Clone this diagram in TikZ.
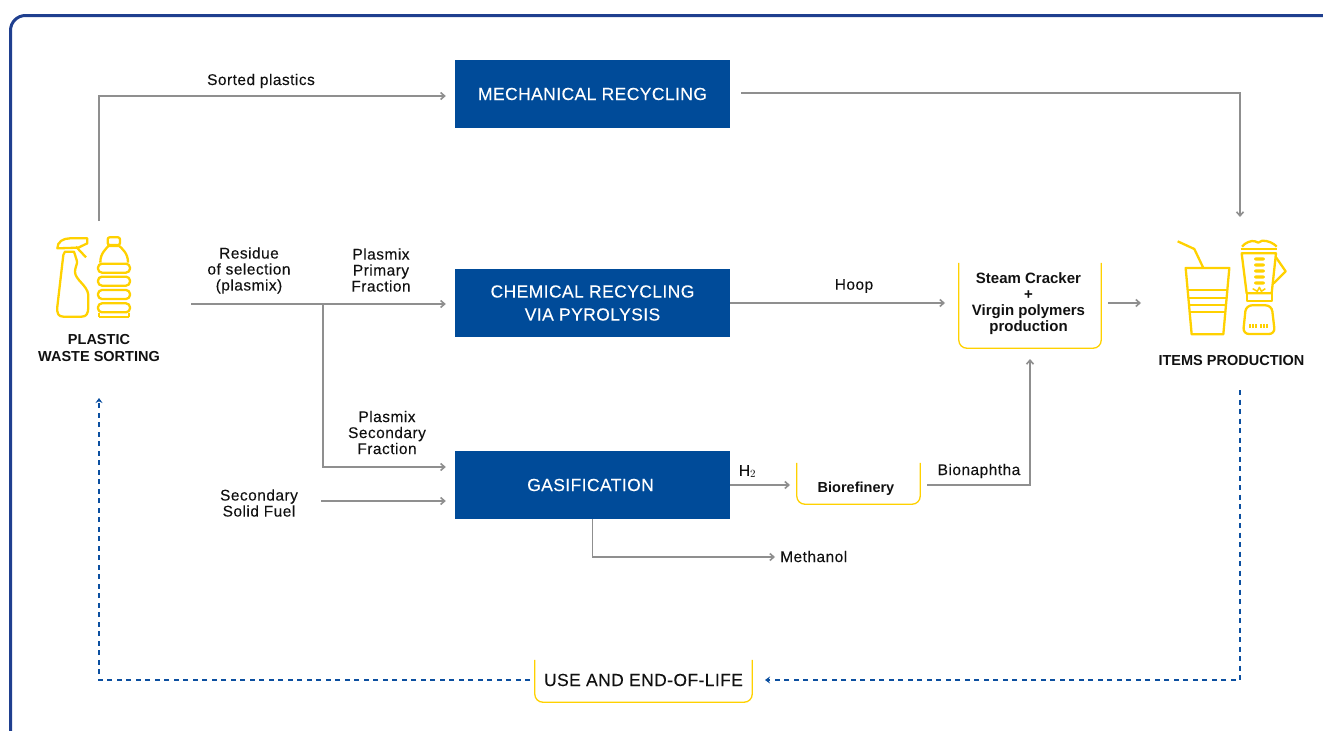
\documentclass[tikz,border=0pt]{standalone}
\usepackage{fontspec}
\setmainfont{Liberation Sans}
\newfontfamily\medfont[FakeBold=0.12,LetterSpace=3]{Liberation Sans}
\newfontfamily\capsfont[FakeBold=0.1,LetterSpace=2.3]{Liberation Sans}
\usetikzlibrary{arrows.meta}
\definecolor{framecol}{HTML}{1F3F8F}
\definecolor{boxcol}{HTML}{004B99}
\definecolor{linecol}{HTML}{8F8F8F}
\definecolor{iconcol}{HTML}{FFD100}
\definecolor{dashcol}{HTML}{0B4FA0}
\definecolor{textcol}{HTML}{111111}
\tikzset{
    procbox/.style={fill=boxcol, text=white, minimum width=275pt, minimum height=68pt, inner sep=0pt, align=center, font=\capsfont\fontsize{17.5}{23}\selectfont},
    openbox/.style={minimum width=#1, inner sep=0pt},
    txt/.style={text=textcol, inner sep=0pt, align=center, font=\medfont\fontsize{15.5}{16}\selectfont},
    boldtxt/.style={text=textcol, inner sep=0pt, align=center, font=\fontsize{15}{16}\selectfont\bfseries},
    flow/.style={draw=linecol, line width=1.6pt, -{Straight Barb[length=4pt,width=7pt]}},
    loopflow/.style={draw=dashcol, line width=1.6pt, dash pattern=on 5pt off 4.5pt, -{Stealth[length=5pt,width=7pt]}},
    icon/.style={draw=iconcol, line width=2.3pt, line join=round},
}
\begin{document}
\begin{tikzpicture}[x=1pt,y=-1pt]
    \useasboundingbox (0,0) rectangle (1323,731);
    \draw[framecol, line width=3pt, rounded corners=15pt] (10.5,740) -- (10.5,15.5) -- (1335,15.5);

    \node[procbox] (mech) at (592.5,94) {MECHANICAL RECYCLING};
    \node[procbox] (chem) at (592.5,303) {CHEMICAL RECYCLING\hspace{2pt}\\VIA PYROLYSIS\hspace{2pt}};
    \node[procbox] (gas) at (592.5,485) {GASIFICATION\hspace{4pt}};

    \node[openbox=142pt, minimum height=85pt] (steam) at (1030,305.5) {};
    \node[openbox=123pt, minimum height=41pt] (bio) at (858.5,483.5) {};
    \node[openbox=217pt, minimum height=42pt] (use) at (643.5,681) {};
    \foreach \b in {steam,bio,use} {
      \draw[iconcol, line width=1.3pt, rounded corners=8pt] (\b.north west) -- (\b.south west) -- (\b.south east) -- (\b.north east);
    }

    \node[boldtxt] (steamtxt) at (1028.5,304) {Steam Cracker\\+\\Virgin polymers\\production};
    \node[boldtxt, font=\fontsize{14.5}{16}\selectfont\bfseries] (biotxt) at (856,489) {Biorefinery};
    \node[txt, font=\capsfont\fontsize{17.5}{20}\selectfont] (usetxt) at (643.5,680) {USE AND END-OF-LIFE};

    \node[boldtxt, font=\fontsize{14.5}{17}\selectfont\bfseries] (sorting) at (99,348) {PLASTIC\\WASTE SORTING};
    \node[boldtxt, font=\fontsize{14.5}{16}\selectfont\bfseries] (items) at (1231.5,361) {ITEMS PRODUCTION};
    \node[txt] (sorted) at (261,81) {Sorted plastics};
    \node[txt] (residue) at (249,270.5) {Residue\\of selection\\(plasmix)};
    \node[txt] (primary) at (381,270) {Plasmix\\Primary\\Fraction};
    \node[txt] (secondary) at (387,432.5) {Plasmix\\Secondary\\Fraction};
    \node[txt] (ssf) at (259,503) {Secondary\\Solid Fuel};
    \node[txt] (hoop) at (854,286) {Hoop};
    \node[txt] (htwo) at (747.5,471.5) {H$_2$};
    \node[txt] (naphtha) at (979,471) {Bionaphtha};
    \node[txt, anchor=west] (methanol) at (780,556.5) {Methanol};

    \coordinate (sortup) at (99,221);
    \coordinate (sortright) at (191,304);
    \coordinate (split) at (323,304);
    \coordinate (ssfend) at (321,501);
    \coordinate (mechout) at (741,93);
    \coordinate (itemstop) at (1240,217);
    \coordinate (itemsin) at (1141,303);
    \coordinate (steamout) at (1108,303);
    \coordinate (steamin) at (945,303);
    \coordinate (biooin) at (790,485);
    \coordinate (bioout) at (927,485);
    \coordinate (steamlow) at (1030,359);
    \coordinate (methin) at (775,557);
    \coordinate (itemslow) at (1240,390);
    \coordinate (sortlow) at (99,398);
    \coordinate (usein) at (765,680);
    \coordinate (useout) at (530,680);

    \draw[flow] (sortup) |- ([xshift=-9pt,yshift=-2pt]mech.west);
    \draw[flow] (mechout) -| (itemstop);
    \draw[flow] (sortright) -- ([xshift=-9pt,yshift=-1pt]chem.west);
    \draw[flow] (split) |- ([xshift=-9pt,yshift=18pt]gas.west);
    \draw[flow] (ssfend) -- ([xshift=-9pt,yshift=-16pt]gas.west);
    \draw[flow] (chem.east) -- (steamin);
    \draw[flow] (steamout) -- (itemsin);
    \draw[flow] (gas.east) -- (biooin);
    \draw[flow] (bioout) -| (steamlow);
    \draw[flow] (gas.south) |- (methin);
    \draw[loopflow] (itemslow) |- (usein);
    \draw[loopflow] (useout) -| (sortlow);

    \begin{scope}[shift={(0,210)}, x=0.3333pt, y=-0.3333pt]
      \draw[icon] (190,135) -- (172,290) .. controls (170,310) and (175,320) .. (190,320) -- (245,320) .. controls (260,320) and (265,310) .. (265,290) -- (265,255) .. controls (262,225) and (225,210) .. (225,185) .. controls (225,170) and (235,160) .. (230,150) -- (222,125) -- (195,125) -- (190,135);
      \draw[icon] (172,115) .. controls (172,95) and (190,85) .. (210,85) -- (262,85) -- (262,100) -- (235,113) -- cycle;
      \draw[icon] (228,110) -- (258,142);
      \draw[icon, rounded corners=2pt] (323,105) -- (323,82) -- (360,82) -- (360,105) -- cycle;
      \draw[icon] (301,158) .. controls (300,130) and (320,115) .. (325,108) -- (358,108) .. controls (365,115) and (385,130) .. (384,158);
      \foreach \y in {161,200,240,280} {
        \draw[icon, rounded corners=4pt] (294,\y) rectangle (390,\y+27);
      }
      \draw[icon] (298,320) -- (386,320);
      \draw[icon] (298,308) -- (298,320);
      \draw[icon] (386,308) -- (386,320);
    \end{scope}

    \begin{scope}[shift={(1130,200)}, x=0.3333pt, y=-0.3333pt]
      \draw[icon] (167,204) -- (298,204) -- (280,403) -- (185,403) -- cycle;
      \foreach \y/\l/\r in {271/174/291,295/176/289,315/178/287,335/180/285} {
        \draw[icon] (\l,\y) -- (\r,\y);
      }
      \draw[icon] (143,124) -- (193,147) -- (220,204);
      \draw[icon] (332,147) -- (442,147);
      \draw[icon] (336,140) .. controls (345,128) and (365,120) .. (375,124) -- (385,128) -- (397,122) .. controls (415,122) and (432,130) .. (440,140);
      \draw[icon] (335,160) -- (438,160) -- (425,280) -- (350,280) -- cycle;
      \draw[icon] (438,172) -- (467,214) -- (431,250);
      \foreach \y in {177,195,213,231,249} {
        \fill[iconcol, rounded corners=2pt] (372,\y-5) rectangle (405,\y+5);
      }
      \draw[icon, line width=1.5pt] (368,266) -- (382,274) -- (388,262) -- (394,274) -- (406,266);
      \draw[icon] (350,280) -- (350,304) -- (425,304) -- (425,280);
      \draw[icon, rounded corners=6pt] (348,316) -- (425,316) -- (435,402) -- (339,402) -- cycle;
      \foreach \x in {361,370,379,393,402,411} {
        \fill[iconcol] (\x-3,372) rectangle (\x+3,384);
      }
    \end{scope}
\end{tikzpicture}
\end{document}
